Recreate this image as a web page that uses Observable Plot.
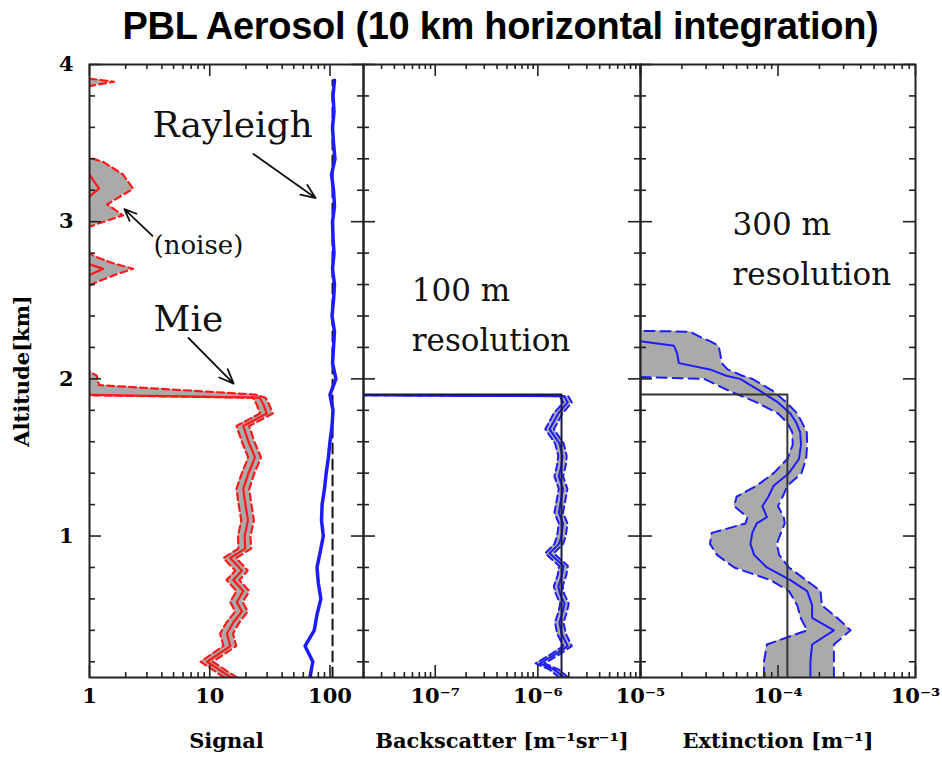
<!DOCTYPE html>
<html>
<head>
<meta charset="utf-8">
<script src="https://cdn.jsdelivr.net/npm/d3@7"></script>
<script src="https://cdn.jsdelivr.net/npm/@observablehq/plot@0.6"></script>
<style>
  html, body { margin: 0; padding: 0; background: #fff; overflow: hidden; }
  #chart { position: relative; width: 942px; height: 762px; overflow: hidden; background: #fff; }
  #chart svg { position: absolute; left: 0; top: 0; }
  #title {
    position: absolute; left: 0; top: 5px; width: 1001px; text-align: center;
    font: bold 38px "Liberation Sans", Arial, sans-serif; letter-spacing: -0.3px; line-height: 42px; color: #000;
  }
</style>
</head>
<body>
<div id="chart"><div id="title">PBL Aerosol (10 km horizontal integration)</div></div>
<script>
// ---------- Signal panel: Mie (aerosol) channel, with error band ----------
const mieAlt    = [0.10, 0.20, 0.30, 0.38, 0.45, 0.52, 0.58, 0.65, 0.72, 0.78, 0.86, 0.92, 1.00, 1.10, 1.20, 1.30, 1.40, 1.50, 1.60, 1.70, 1.78, 1.84, 1.88, 1.90, 1.96, 2.02, 2.08, 2.56, 2.61, 2.66, 2.70, 2.74, 2.78, 2.84, 2.94, 2.99, 3.04, 3.11, 3.16, 3.21, 3.30, 3.38, 3.43, 3.85, 3.89, 3.92];
const mieSignal = [15.0, 9.5, 14.8, 13.9, 15.7, 18.5, 16.8, 19.0, 15.7, 18.5, 14.8, 19.7, 19.5, 20.8, 19.8, 19.0, 21.0, 23.8, 21.0, 19.0, 29.8, 27.8, 26.0, 0.7, 0.5, 0.4, 0.3, 0.3, 0.6, 1.0, 1.3, 0.9, 0.6, 0.3, 0.3, 0.7, 1.0, 0.8, 1.0, 1.2, 1.0, 0.6, 0.3, 0.3, 0.7, 0.3];
const mieLow    = [13.2, 8.4, 13.0, 12.2, 13.8, 16.3, 14.8, 16.7, 13.8, 16.3, 13.0, 17.3, 17.2, 18.3, 17.4, 16.7, 18.5, 20.9, 18.5, 16.7, 26.2, 24.5, 22.9, 0.4, 0.3, 0.2, 0.1, 0.1, 0.2, 0.5, 0.8, 0.4, 0.2, 0.1, 0.1, 0.3, 0.5, 0.4, 0.5, 0.7, 0.5, 0.2, 0.1, 0.1, 0.3, 0.1];
const mieHigh   = [16.8, 10.6, 16.6, 15.6, 17.6, 20.7, 18.8, 21.3, 17.6, 20.7, 16.6, 22.1, 21.8, 23.3, 22.2, 21.3, 23.5, 26.7, 23.5, 21.3, 33.4, 31.1, 29.1, 24.0, 1.2, 1.15, 0.85, 0.8, 1.1, 1.6, 2.3, 1.5, 1.1, 0.8, 0.8, 1.2, 1.9, 1.4, 1.8, 2.3, 1.9, 1.3, 0.8, 0.8, 1.6, 0.8];

// ---------- Signal panel: Rayleigh (molecular) channel ----------
const rayAlt    = [0.1, 0.2, 0.3, 0.4, 0.5, 0.6, 0.7, 0.8, 0.9, 1.0, 1.1, 1.2, 1.3, 1.4, 1.5, 1.6, 1.7, 1.8, 1.9, 2.0, 2.1, 2.2, 2.3, 2.4, 2.5, 2.6, 2.7, 2.8, 2.9, 3.0, 3.1, 3.2, 3.3, 3.4, 3.5, 3.6, 3.7, 3.8, 3.9];
const rayleigh  = [68, 72, 62, 74, 78, 84, 80, 78, 83, 88, 85, 86, 90, 93, 97, 100, 104, 106, 100, 112, 105, 107, 109, 104, 107, 109, 105, 108, 106, 105, 109, 107, 103, 110, 107, 105, 108, 106, 109];
const rayModelAlt = [0.1, 3.9];
const rayModel    = [105, 105];

// ---------- Backscatter panel (100 m resolution) ----------
const backAlt  = [0.10, 0.15, 0.19, 0.25, 0.30, 0.38, 0.45, 0.52, 0.57, 0.63, 0.68, 0.75, 0.81, 0.89, 0.95, 1.00, 1.08, 1.15, 1.21, 1.30, 1.38, 1.45, 1.51, 1.59, 1.68, 1.78, 1.85, 1.89, 1.90];
const backMid  = [1.80e-6, 1.45e-6, 1.05e-6, 1.50e-6, 1.95e-6, 1.70e-6, 1.62e-6, 1.75e-6, 1.82e-6, 1.65e-6, 1.58e-6, 1.72e-6, 1.78e-6, 1.30e-6, 1.60e-6, 1.70e-6, 1.76e-6, 1.60e-6, 1.66e-6, 1.76e-6, 1.60e-6, 1.70e-6, 1.74e-6, 1.62e-6, 1.30e-6, 1.58e-6, 1.95e-6, 1.80e-6, 1e-9];
const backLow  = [1.62e-6, 1.30e-6, 0.95e-6, 1.36e-6, 1.77e-6, 1.54e-6, 1.47e-6, 1.59e-6, 1.65e-6, 1.50e-6, 1.43e-6, 1.56e-6, 1.61e-6, 1.18e-6, 1.45e-6, 1.54e-6, 1.60e-6, 1.45e-6, 1.51e-6, 1.60e-6, 1.45e-6, 1.54e-6, 1.58e-6, 1.47e-6, 1.18e-6, 1.43e-6, 1.77e-6, 1.63e-6, 1e-9];
const backHigh = [1.98e-6, 1.60e-6, 1.16e-6, 1.65e-6, 2.14e-6, 1.87e-6, 1.78e-6, 1.92e-6, 2.00e-6, 1.81e-6, 1.74e-6, 1.89e-6, 1.96e-6, 1.43e-6, 1.76e-6, 1.87e-6, 1.94e-6, 1.76e-6, 1.83e-6, 1.94e-6, 1.76e-6, 1.87e-6, 1.91e-6, 1.78e-6, 1.43e-6, 1.74e-6, 2.14e-6, 1.98e-6, 1e-9];
const backTrueAlt = [0.1, 1.9, 1.9];
const backTrue    = [1.7e-6, 1.7e-6, 1e-9];

// ---------- Extinction panel (300 m resolution) ----------
const extAlt  = [0.10, 0.20, 0.31, 0.40, 0.48, 0.56, 0.65, 0.72, 0.80, 0.88, 0.95, 1.02, 1.08, 1.12, 1.19, 1.25, 1.32, 1.40, 1.49, 1.58, 1.66, 1.72, 1.78, 1.85, 1.92, 2.00, 2.02, 2.06, 2.10, 2.16, 2.21, 2.24, 2.26, 2.30, 2.31];
const extMid  = [1.72e-4, 1.72e-4, 1.77e-4, 2.55e-4, 1.77e-4, 1.77e-4, 1.63e-4, 1.23e-4, 8.3e-5, 6.7e-5, 6.3e-5, 6.5e-5, 7.0e-5, 8.3e-5, 7.7e-5, 8.5e-5, 9.3e-5, 1.20e-4, 1.42e-4, 1.47e-4, 1.45e-4, 1.36e-4, 1.23e-4, 1.0e-4, 7.5e-5, 5.3e-5, 4.2e-5, 3.2e-5, 1.9e-5, 1.85e-5, 1.75e-5, 1.0e-5, 6e-6, 6e-6, 6e-6];
const extLow  = [7.9e-5, 7.9e-5, 8.3e-5, 1.63e-4, 1.46e-4, 1.38e-4, 1.20e-4, 8.8e-5, 4.8e-5, 3.6e-5, 3.2e-5, 3.3e-5, 5.8e-5, 6.0e-5, 4.8e-5, 5.0e-5, 7.0e-5, 9.3e-5, 1.17e-4, 1.28e-4, 1.27e-4, 1.17e-4, 1.0e-4, 7.0e-5, 4.5e-5, 2.9e-5, 5e-6, 5e-6, 5e-6, 5e-6, 5e-6, 5e-6, 5e-6, 5e-6, 5e-6];
const extHigh = [2.55e-4, 2.55e-4, 2.55e-4, 3.37e-4, 2.69e-4, 2.08e-4, 2.04e-4, 1.60e-4, 1.20e-4, 1.02e-4, 9.8e-5, 1.05e-4, 1.12e-4, 1.10e-4, 1.0e-4, 1.08e-4, 1.17e-4, 1.48e-4, 1.60e-4, 1.63e-4, 1.62e-4, 1.50e-4, 1.38e-4, 1.15e-4, 9.3e-5, 6.5e-5, 5.5e-5, 4.3e-5, 3.9e-5, 3.8e-5, 3.7e-5, 3.2e-5, 2.8e-5, 2.3e-5, 5e-6];
const extTrueAlt = [0.1, 1.9, 1.9];
const extTrue    = [1.17e-4, 1.17e-4, 1e-9];

// ---------- axes ----------
const altDomain = [0.1, 4];
const altMajor = [1, 2, 3, 4];
const signalDomain = [1, 190];
const backDomain = [2e-8, 1e-5];
const extDomain = [1e-5, 1e-3];
const signalLabels = [1, 10, 100];
const backLabels = [1e-7, 1e-6, 1e-5];
const extLabels = [1e-4, 1e-3];

// ---------- annotations (data coordinates of each panel) ----------
const signalNotes = [
  {x: 3.34, y: 3.61, text: "Rayleigh", size: 36},
  {x: 3.41, y: 2.85, text: "(noise)", size: 26},
  {x: 3.41, y: 2.38, text: "Mie", size: 36}
];
const signalArrows = [
  {x1: 23.1, y1: 3.43, x2: 75.9, y2: 3.15},
  {x1: 3.34, y1: 2.91, x2: 1.95, y2: 3.08},
  {x1: 6.66, y1: 2.26, x2: 15.8, y2: 1.97}
];
const backNotes = [
  {x: 5.9e-8, y: 2.56, text: "100 m", size: 31},
  {x: 5.9e-8, y: 2.24, text: "resolution", size: 31}
];
const extNotes = [
  {x: 4.67e-5, y: 2.98, text: "300 m", size: 31},
  {x: 4.67e-5, y: 2.66, text: "resolution", size: 31}
];

const RED = "#ff1a1a", BLUE = "#1c1cff", BAND = "#aaaaaa", INK = "#222";
const SERIF = "DejaVu Serif";
const FS = 21;
const zip = (alt, ...cols) => alt.map((a, i) => ({alt: a, v: cols.map(c => c[i])}));
const sup = {"0": "\u2070", "1": "\u00B9", "2": "\u00B2", "3": "\u00B3", "4": "\u2074", "5": "\u2075", "6": "\u2076", "7": "\u2077", "8": "\u2078", "9": "\u2079"};
const powerOfTen = v => {
  const e = Math.round(Math.log10(v));
  return "10" + (e < 0 ? "\u207B" : "") + String(Math.abs(e)).split("").map(c => sup[c]).join("");
};

const W = 942, H = 762, TOP = 64, BOTTOM = 677;

function panel({left, right, xDomain, labelTicks, tickFormat, title, marks, yAxis}) {
  const fw = right - left, fh = BOTTOM - TOP;
  const allTicks = d3.scaleLog().domain(xDomain).ticks();
  const isDecade = v => Math.abs(Math.log10(v) - Math.round(Math.log10(v))) < 1e-9;
  const xMajor = allTicks.filter(isDecade);
  const xMinor = allTicks.filter(v => !isDecade(v));
  const yMinor = d3.ticks(altDomain[0], altDomain[1], 20).filter(v => Math.abs(v - Math.round(v)) > 1e-9);
  const tickStyle = {stroke: INK, strokeWidth: 1.6};
  return Plot.plot({
    width: W, height: H,
    marginLeft: left, marginRight: W - right, marginTop: TOP, marginBottom: H - BOTTOM,
    x: {type: "log", domain: xDomain, axis: null},
    y: {domain: altDomain, axis: null},
    style: {background: "transparent", overflow: "visible", fontFamily: SERIF},
    marks: [
      ...marks,
      // inward ticks on all four sides
      Plot.tickX(xMinor, {x: d => d, insetTop: fh - 5, ...tickStyle}),
      Plot.tickX(xMinor, {x: d => d, insetBottom: fh - 5, ...tickStyle}),
      Plot.tickX(xMajor, {x: d => d, insetTop: fh - 12, ...tickStyle}),
      Plot.tickX(xMajor, {x: d => d, insetBottom: fh - 12, ...tickStyle}),
      Plot.tickY(yMinor, {y: d => d, insetRight: fw - 6, ...tickStyle}),
      Plot.tickY(yMinor, {y: d => d, insetLeft: fw - 6, ...tickStyle}),
      Plot.tickY(altMajor, {y: d => d, insetRight: fw - 12, ...tickStyle}),
      Plot.tickY(altMajor, {y: d => d, insetLeft: fw - 12, ...tickStyle}),
      Plot.frame({stroke: INK, strokeWidth: 2}),
      Plot.axisX({anchor: "bottom", ticks: labelTicks, tickSize: 0, tickPadding: 11, tickFormat, label: null,
        fontSize: FS, fontWeight: "bold", fontFamily: SERIF}),
      Plot.text([title], {text: d => d, frameAnchor: "bottom", dy: 70,
        fontSize: FS, fontWeight: "bold", fontFamily: SERIF}),
      ...(yAxis ? [
        Plot.axisY({anchor: "left", ticks: altMajor, tickSize: 0, tickPadding: 16, tickFormat: d3.format("d"), label: null,
          fontSize: FS, fontWeight: "bold", fontFamily: SERIF}),
        Plot.text(["Altitude[km]"], {text: d => d, frameAnchor: "left", textAnchor: "middle", rotate: -90, dx: -67,
          fontSize: FS, fontWeight: "bold", fontFamily: SERIF})
      ] : [])
    ]
  });
}

function bandMarks(rows, color, dash, sw) {
  return [
    Plot.areaX(rows, {y: "alt", x1: d => d.v[1], x2: d => d.v[2], fill: BAND, clip: true}),
    Plot.lineX(rows, {y: "alt", x: d => d.v[1], stroke: color, strokeWidth: sw, strokeDasharray: dash, clip: true}),
    Plot.lineX(rows, {y: "alt", x: d => d.v[2], stroke: color, strokeWidth: sw, strokeDasharray: dash, clip: true}),
    Plot.lineX(rows, {y: "alt", x: d => d.v[0], stroke: color, strokeWidth: sw, clip: true})
  ];
}

function noteMarks(notes) {
  return [Plot.text(notes, {x: "x", y: "y", text: "text", fontSize: d => d.size, textAnchor: "start",
    fontFamily: SERIF, fontWeight: "normal", fill: "#111"})];
}

const mieRows = zip(mieAlt, mieSignal, mieLow, mieHigh);
const rayRows = zip(rayAlt, rayleigh);
const rayModelRows = zip(rayModelAlt, rayModel);
const backRows = zip(backAlt, backMid, backLow, backHigh);
const backTrueRows = zip(backTrueAlt, backTrue);
const extRows = zip(extAlt, extMid, extLow, extHigh);
const extTrueRows = zip(extTrueAlt, extTrue);

const chart = document.getElementById("chart");

chart.append(panel({
  left: 89, right: 363, xDomain: signalDomain, labelTicks: signalLabels, tickFormat: d3.format("d"),
  title: "Signal", yAxis: true,
  marks: [
    ...bandMarks(mieRows, RED, "7,4", 2.2),
    Plot.lineX(rayModelRows, {y: "alt", x: d => d.v[0], stroke: "#111", strokeWidth: 2, strokeDasharray: "10,6", clip: true}),
    Plot.lineX(rayRows, {y: "alt", x: d => d.v[0], stroke: BLUE, strokeWidth: 3.5, clip: true}),
    ...noteMarks(signalNotes),
    Plot.arrow(signalArrows, {x1: "x1", y1: "y1", x2: "x2", y2: "y2", stroke: "#111", strokeWidth: 1.8, headLength: 13, headAngle: 45})
  ]
}));

chart.append(panel({
  left: 363, right: 640, xDomain: backDomain, labelTicks: backLabels, tickFormat: powerOfTen,
  title: "Backscatter [m\u207B\u00B9sr\u207B\u00B9]",
  marks: [
    ...bandMarks(backRows, BLUE, "7,4", 2),
    Plot.lineX(backTrueRows, {y: "alt", x: d => d.v[0], stroke: "#1a1a40", strokeWidth: 2, clip: true}),
    ...noteMarks(backNotes)
  ]
}));

chart.append(panel({
  left: 640, right: 915, xDomain: extDomain, labelTicks: extLabels, tickFormat: powerOfTen,
  title: "Extinction [m\u207B\u00B9]",
  marks: [
    ...bandMarks(extRows, BLUE, "10,6", 2),
    Plot.lineX(extTrueRows, {y: "alt", x: d => d.v[0], stroke: "#333", strokeWidth: 2, clip: true}),
    ...noteMarks(extNotes)
  ]
}));
</script>
</body>
</html>
